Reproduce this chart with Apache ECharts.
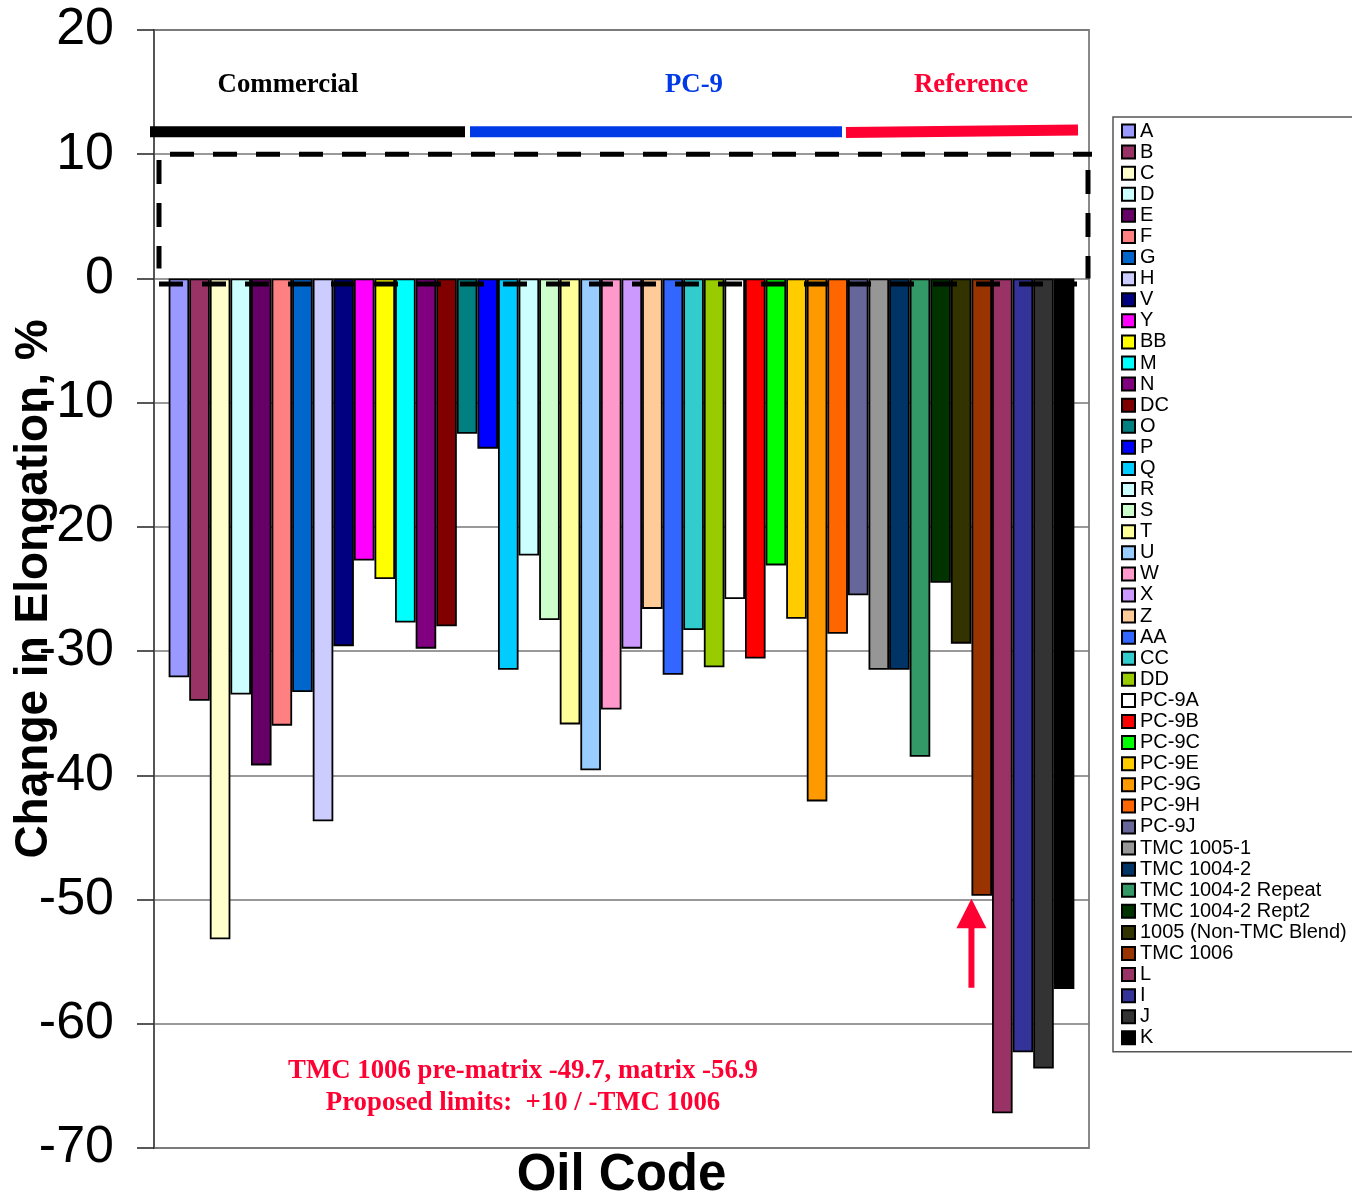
<!DOCTYPE html>
<html><head><meta charset="utf-8">
<script src="https://cdn.jsdelivr.net/npm/echarts@6/dist/echarts.min.js"></script>
<style>html,body{margin:0;padding:0;background:#fff}#c{width:1352px;height:1198px}</style>
</head><body><div id="c"></div>
<script>
// ---- data ----
const oilCodes = ['A','B','C','D','E','F','G','H','V','Y','BB','M','N','DC','O','P','Q','R','S','T','U','W','X','Z','AA','CC','DD',
  'PC-9A','PC-9B','PC-9C','PC-9E','PC-9G','PC-9H','PC-9J','TMC 1005-1','TMC 1004-2','TMC 1004-2 Repeat','TMC 1004-2 Rept2',
  '1005 (Non-TMC Blend)','TMC 1006','L','I','J','K'];
const elongationChange = [-32.1,-34.0,-53.2,-33.5,-39.2,-36.0,-33.3,-43.7,-29.6,-22.7,-24.2,-27.7,-29.8,-28.0,-12.5,-13.7,
  -31.5,-22.3,-27.5,-35.9,-39.6,-34.7,-29.8,-26.6,-31.9,-28.3,-31.3,
  -25.8,-30.6,-23.1,-27.4,-42.1,-28.6,-25.5,-31.5,-31.5,-38.5,-24.5,-29.4,-49.7,-67.2,-62.3,-63.6,-57.2];
const barColors = ['#9999FF','#993366','#FFFFCC','#CCFFFF','#660066','#FF8080','#0066CC','#CCCCFF','#000080','#FF00FF','#FFFF00',
  '#00FFFF','#800080','#800000','#008080','#0000FF','#00CCFF','#CCFFFF','#CCFFCC','#FFFF99','#99CCFF','#FF99CC','#CC99FF','#FFCC99',
  '#3366FF','#33CCCC','#99CC00','#FFFFFF','#FF0000','#00FF00','#FFCC00','#FF9900','#FF6600','#666699','#969696','#003366','#339966',
  '#003300','#333300','#993300','#993366','#333399','#333333','#000000'];
const yMin = -70, yMax = 20, yStep = 10;
const groupNames = ['Commercial','PC-9','Reference'];
const noteLines = ['TMC 1006 pre-matrix -49.7, matrix -56.9','Proposed limits:  +10 / -TMC 1006'];
const limitUpper = 10, limitZero = 0;
const yTitle = 'Change in Elongation, %';
const xTitle = 'Oil Code';

// ---- chart ----
const chart = echarts.init(document.getElementById('c'), null, {renderer:'canvas'});
const SANS = 'Liberation Sans, Arial, sans-serif';
const SERIF = 'Liberation Serif, Times New Roman, serif';

const option = {
  animation: false,
  backgroundColor: '#fff',
  grid: {left:154, top:30, right:263, bottom:50, show:true, borderColor:'#888', borderWidth:2, backgroundColor:'#fff',
    containLabel:false, outerBoundsMode:'none'},
  xAxis: {
    type:'category', data:[''],
    axisLine:{show:false}, axisTick:{show:false}, axisLabel:{show:false}, splitLine:{show:false},
    name:xTitle, nameLocation:'middle', nameGap:2, nameMoveOverlap:false,
    nameTextStyle:{fontFamily:SANS, fontSize:51, fontWeight:'bold', color:'#000'}
  },
  yAxis: {
    type:'value', min:yMin, max:yMax, interval:yStep,
    axisLine:{show:true, onZero:false, lineStyle:{color:'#555', width:2}},
    axisTick:{show:true, length:17, lineStyle:{color:'#222', width:1.5}},
    axisLabel:{fontFamily:SANS, fontSize:52, color:'#000', margin:40},
    splitLine:{show:true, lineStyle:{color:'#777', width:1.5}},
    name:yTitle, nameLocation:'middle', nameGap:97, nameRotate:90, nameMoveOverlap:false,
    nameTextStyle:{fontFamily:SANS, fontSize:46, fontWeight:'bold', color:'#000'}
  },
  legend: {
    orient:'vertical', left:1113, top:117,
    padding:[4,30,4,8], itemGap:1.09, itemWidth:13, itemHeight:13,
    icon:'rect', selectedMode:false,
    borderColor:'#555', borderWidth:1.5, backgroundColor:'#fff',
    itemStyle:{borderColor:'#000', borderWidth:2},
    textStyle:{fontFamily:SANS, fontSize:20, lineHeight:20, color:'#000', padding:[0,0,0,0]},
    data: oilCodes
  },
  series: oilCodes.map((name,i)=>({
    name, type:'bar', data:[elongationChange[i]],
    barGap:0, barCategoryGap:'3.13%',
    itemStyle:{color:barColors[i], borderColor:'#000', borderWidth:1.8},
    emphasis:{disabled:true}
  }))
};
chart.setOption(option);

const py = v => chart.convertToPixel({yAxisIndex:0}, v);
// bar layout of TMC 1006 for arrow placement
let tmcIdx = oilCodes.indexOf('TMC 1006');
let arrowX = 971;
try {
  const lay = chart.getModel().getSeriesByIndex(tmcIdx).getData().getItemLayout(0);
  if (lay && isFinite(lay.x)) arrowX = lay.x;
} catch(e) {}
const tmcVal = elongationChange[tmcIdx];

const dash = {stroke:'#000', lineWidth:5, lineDash:[24,19]};
const g = [];
// dashed limit box
g.push({type:'line', z:100, shape:{x1:170, y1:py(limitUpper), x2:1092, y2:py(limitUpper)}, style:dash});
g.push({type:'line', z:100, shape:{x1:159, y1:160, x2:159, y2:py(limitZero)-10}, style:dash});
g.push({type:'line', z:100, shape:{x1:1088, y1:170, x2:1088, y2:py(limitZero)}, style:dash});
g.push({type:'line', z:100, shape:{x1:159, y1:py(limitZero)+5.5, x2:1077, y2:py(limitZero)+5.5}, style:dash});
// group bars
g.push({type:'line', z:100, shape:{x1:150, y1:py(11.8), x2:465, y2:py(11.8)}, style:{stroke:'#000', lineWidth:11}});
g.push({type:'line', z:100, shape:{x1:470, y1:py(11.8), x2:842, y2:py(11.8)}, style:{stroke:'#0039E6', lineWidth:11}});
g.push({type:'line', z:100, shape:{x1:846, y1:py(11.75), x2:1078, y2:py(11.95)}, style:{stroke:'#FF0033', lineWidth:11}});
// group labels
const labelStyle = (c)=>({font:'bold 26.8px '+SERIF, fill:c, align:'center', verticalAlign:'middle'});
g.push({type:'text', z:100, style:Object.assign({text:groupNames[0], x:288, y:py(15.55)}, labelStyle('#000'))});
g.push({type:'text', z:100, style:Object.assign({text:groupNames[1], x:694, y:py(15.55)}, labelStyle('#0039E6'))});
g.push({type:'text', z:100, style:Object.assign({text:groupNames[2], x:971, y:py(15.55)}, labelStyle('#FF0033'))});
// notes
g.push({type:'text', z:100, style:Object.assign({text:noteLines[0], x:523, y:py(-63.83)}, labelStyle('#FF0033'))});
g.push({type:'text', z:100, style:Object.assign({text:noteLines[1], x:523, y:py(-66.4)}, labelStyle('#FF0033'))});
// arrow
const tipY = py(tmcVal) + 3;
const baseY = py(tmcVal - 2.6);
const endY = py(tmcVal - 7.4);
g.push({type:'polygon', z:100, shape:{points:[[arrowX, tipY],[arrowX-15, baseY],[arrowX+15, baseY]]}, style:{fill:'#FF0033'}});
g.push({type:'rect', z:100, shape:{x:arrowX-3, y:baseY-1, width:6, height:endY-baseY+1}, style:{fill:'#FF0033'}});
chart.setOption({graphic:g});
</script>
</body></html>
